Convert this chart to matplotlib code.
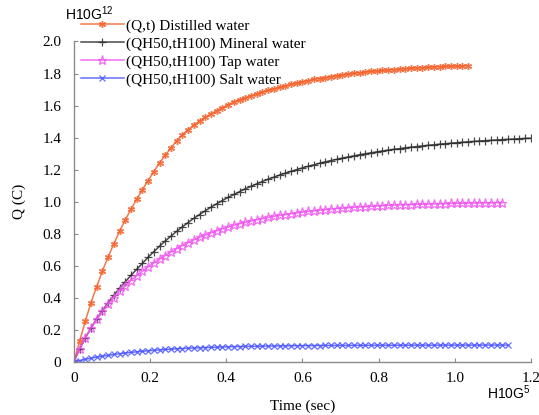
import numpy as np
import matplotlib
matplotlib.use("Agg")
import matplotlib.pyplot as plt

# ---------- data ----------
dt = 0.015  # sampling step of the simulated curves (sec x 1e5)

q_distilled = [
    0, 0.128, 0.253, 0.37, 0.47, 0.568, 0.655, 0.737, 0.815, 0.886,
    0.953, 1.015, 1.075, 1.131, 1.188, 1.242, 1.29, 1.336, 1.38, 1.417,
    1.45, 1.478, 1.504, 1.527, 1.548, 1.568, 1.587, 1.605, 1.622, 1.636,
    1.649, 1.661, 1.673, 1.684, 1.695, 1.705, 1.714, 1.723, 1.732, 1.741,
    1.749, 1.756, 1.763, 1.769, 1.775, 1.781, 1.787, 1.792, 1.797, 1.801,
    1.805, 1.809, 1.813, 1.816, 1.819, 1.822, 1.825, 1.828, 1.831, 1.833,
    1.835, 1.837, 1.839, 1.841, 1.843, 1.845, 1.846, 1.847, 1.848, 1.849,
]

q_mineral = [
    0, 0.08, 0.15, 0.21, 0.27, 0.32, 0.37, 0.415, 0.46, 0.50,
    0.54, 0.578, 0.615, 0.653, 0.688, 0.722, 0.755, 0.785, 0.815, 0.843,
    0.870, 0.896, 0.920, 0.943, 0.966, 0.987, 1.007, 1.027, 1.045, 1.063,
    1.080, 1.096, 1.111, 1.126, 1.140, 1.153, 1.166, 1.178, 1.189, 1.200,
    1.211, 1.221, 1.230, 1.240, 1.248, 1.257, 1.264, 1.272, 1.279, 1.286,
    1.293, 1.299, 1.305, 1.311, 1.316, 1.322, 1.327, 1.331, 1.336, 1.340,
    1.344, 1.348, 1.352, 1.355, 1.359, 1.362, 1.365, 1.368, 1.371, 1.374,
    1.376, 1.379, 1.381, 1.383, 1.385, 1.388, 1.389, 1.391, 1.393, 1.395,
    1.396,
]

q_tap = [
    0, 0.08, 0.15, 0.21, 0.265, 0.315, 0.36, 0.40, 0.44, 0.475,
    0.508, 0.538, 0.566, 0.593, 0.618, 0.640, 0.664, 0.686, 0.707, 0.726,
    0.744, 0.761, 0.777, 0.792, 0.805, 0.818, 0.830, 0.841, 0.852, 0.862,
    0.871, 0.879, 0.887, 0.895, 0.902, 0.908, 0.914, 0.920, 0.925, 0.930,
    0.935, 0.939, 0.943, 0.947, 0.950, 0.954, 0.957, 0.959, 0.962, 0.965,
    0.967, 0.969, 0.971, 0.973, 0.975, 0.977, 0.978, 0.980, 0.981, 0.982,
    0.983, 0.984, 0.985, 0.986, 0.987, 0.988, 0.989, 0.990, 0.990, 0.991,
    0.992, 0.992, 0.993, 0.993, 0.994, 0.994,
]

q_salt = [
    0, 0.0084, 0.0161, 0.0232, 0.0298, 0.0358, 0.0413, 0.0464, 0.0511, 0.0554,
    0.0594, 0.063, 0.0664, 0.0695, 0.0723, 0.0749, 0.0773, 0.0795, 0.0816, 0.0834,
    0.0852, 0.0868, 0.0882, 0.0896, 0.0908, 0.0919, 0.093, 0.0939, 0.0948, 0.0956,
    0.0964, 0.0971, 0.0977, 0.0983, 0.0988, 0.0993, 0.0998, 0.1002, 0.1006, 0.1009,
    0.1013, 0.1016, 0.1018, 0.1021, 0.1023, 0.1025, 0.1027, 0.1029, 0.103, 0.1032,
    0.1033, 0.1034, 0.1035, 0.1036, 0.1037, 0.1038, 0.1039, 0.104, 0.104, 0.1041,
    0.1042, 0.1042, 0.1043, 0.1043, 0.1044, 0.1044, 0.1045, 0.1045, 0.1045, 0.1046,
    0.1046, 0.1046, 0.1047, 0.1047, 0.1047, 0.1048, 0.1048,
]

labels = [
    "(Q,t) Distilled water",
    "(QH50,tH100) Mineral water",
    "(QH50,tH100) Tap water",
    "(QH50,tH100) Salt water",
]

x_ticks = [0, 0.2, 0.4, 0.6, 0.8, 1.0, 1.2]
x_ticklabels = ["0", "0.2", "0.4", "0.6", "0.8", "1.0", "1.2"]
y_ticks = [0, 0.2, 0.4, 0.6, 0.8, 1.0, 1.2, 1.4, 1.6, 1.8, 2.0]
y_ticklabels = ["0", "0.2", "0.4", "0.6", "0.8", "1.0", "1.2", "1.4", "1.6", "1.8", "2.0"]

# ---------- figure ----------
plt.rcParams['font.family'] = ['Liberation Serif', 'DejaVu Serif']
fig = plt.figure(figsize=(5.39, 4.15), dpi=100)
ax = fig.add_axes([0.137, 0.128, 0.848, 0.772])

series = [
    (q_distilled, dict(color='#f4602a', marker=(6, 2, 0), ms=5, mew=1.0)),
    (q_mineral, dict(color='#2a2a2a', marker='+', ms=5.5, mew=0.9)),
    (q_tap, dict(color='#f055f0', marker='*', ms=6.5, mew=0.9, mfc='none')),
    (q_salt, dict(color='#4a55ff', marker='x', ms=3.8, mew=0.9)),
]
for (q, style), lab in zip(series, labels):
    t = np.arange(len(q)) * dt
    ax.plot(t, q, lw=1.1, label=lab, alpha=0.85, **style)

ax.set_xlim(0, 1.2)
ax.set_ylim(0, 2.0)
ax.set_xticks(x_ticks)
ax.set_xticklabels(x_ticklabels)
ax.set_yticks(y_ticks)
ax.set_yticklabels(y_ticklabels)
for s in ['top', 'right']:
    ax.spines[s].set_visible(False)
for s in ['left', 'bottom']:
    ax.spines[s].set_color('#8a8a8a')
    ax.spines[s].set_linewidth(1.0)
ax.tick_params(direction='in', length=3, color='#8a8a8a', labelsize=11, pad=7)
ax.tick_params(axis='y', pad=9)

ax.set_xlabel("Time (sec)", fontsize=11, labelpad=11)
ax.set_ylabel("Q (C)", fontsize=11, labelpad=12)

fig.legend(loc='upper left', bbox_to_anchor=(0.15, 0.955), frameon=False,
           fontsize=11, handlelength=2.8, handletextpad=0.15,
           labelspacing=0.28, borderpad=0, borderaxespad=0)

fig.text(0.12, 0.952, r"$\mathregular{H10G^{12}}$", fontsize=10,
         family='Liberation Sans', ha='left', va='baseline')
fig.text(0.985, 0.038, r"$\mathregular{H10G^{5}}$", fontsize=10,
         family='Liberation Sans', ha='right', va='baseline')

fig.savefig("out.png", dpi=100)
